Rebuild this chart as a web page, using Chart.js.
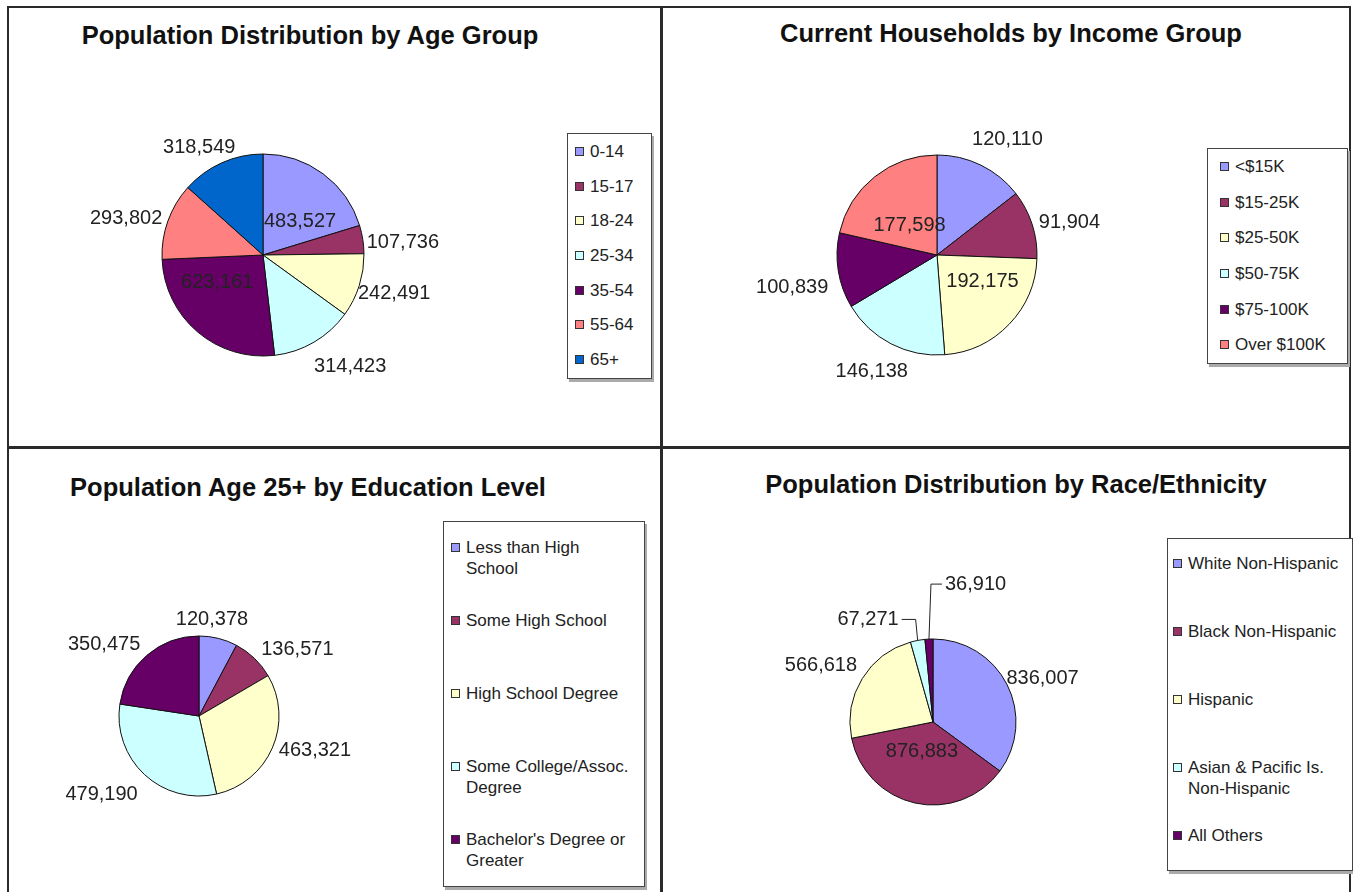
<!DOCTYPE html>
<html>
<head>
<meta charset="utf-8">
<script src="https://cdn.jsdelivr.net/npm/chart.js@4.4.1/dist/chart.umd.min.js"></script>
<style>
body { margin:0; background:#fff; width:1353px; height:892px; overflow:hidden; position:relative; font-family:"Liberation Sans", Arial, sans-serif; }
.line { position:absolute; background:#2a2a2a; }
.title { position:absolute; font-weight:bold; font-size:25.5px; color:#111; white-space:nowrap; transform:translate(-50%,-50%); }
.legend { position:absolute; border:1px solid #444; box-shadow:2px 3px 0 #aaa; background:#fff; box-sizing:border-box; font-size:17px; color:#222; }
.item { display:flex; align-items:flex-start; line-height:21px; }
.mark { width:7px; height:7px; border:1px solid #333; margin:6px 6px 0 0; flex:none; }
canvas { position:absolute; }
</style>
</head>
<body>
<div class="line" style="left:7px;top:6px;width:1344px;height:2px"></div>
<div class="line" style="left:7px;top:6px;width:2px;height:886px"></div>
<div class="line" style="left:1349px;top:6px;width:2px;height:886px"></div>
<div class="line" style="left:660px;top:6px;width:3px;height:886px"></div>
<div class="line" style="left:7px;top:446px;width:1344px;height:3px"></div>

<div class="title" style="left:310px;top:35px">Population Distribution by Age Group</div>
<div class="title" style="left:1011px;top:33px">Current Households by Income Group</div>
<div class="title" style="left:308px;top:487px">Population Age 25+ by Education Level</div>
<div class="title" style="left:1016px;top:484px">Population Distribution by Race/Ethnicity</div>

<canvas id="pieAge" width="480" height="320" style="left:23px;top:95px"></canvas>
<canvas id="pieIncome" width="480" height="320" style="left:697px;top:95px"></canvas>
<canvas id="pieEdu" width="380" height="280" style="left:9px;top:576px"></canvas>
<canvas id="pieRace" width="400" height="320" style="left:733px;top:562px"></canvas>

<div class="legend" id="legAge" style="left:567px;top:133px;width:85px;height:246px;padding:7px 0 0 7px"></div>
<div class="legend" id="legIncome" style="left:1207px;top:148px;width:141px;height:216px;padding:7px 0 0 12px"></div>
<div class="legend" id="legEdu" style="left:443px;top:521px;width:202px;height:366px;padding:15px 0 0 7px"></div>
<div class="legend" id="legRace" style="left:1167px;top:538px;width:186px;height:333px;padding:14px 0 0 5px"></div>

<script>
const ageLabels = ['0-14', '15-17', '18-24', '25-34', '35-54', '55-64', '65+'];
const ageValues = [483527, 107736, 242491, 314423, 623161, 293802, 318549];

const incomeLabels = ['<$15K', '$15-25K', '$25-50K', '$50-75K', '$75-100K', 'Over $100K'];
const incomeValues = [120110, 91904, 192175, 146138, 100839, 177598];

const eduLabels = ['Less than High School', 'Some High School', 'High School Degree', 'Some College/Assoc. Degree', "Bachelor's Degree or Greater"];
const eduValues = [120378, 136571, 463321, 479190, 350475];

const raceLabels = ['White Non-Hispanic', 'Black Non-Hispanic', 'Hispanic', 'Asian & Pacific Is. Non-Hispanic', 'All Others'];
const raceValues = [836007, 876883, 566618, 67271, 36910];

const palette = ['#9999FF', '#993366', '#FFFFCC', '#CCFFFF', '#660066', '#FF8080', '#0066CC'];

// value labels: inside some slices, outside the rest, leader lines for the tiny ones
const pieLabels = {
    id: 'pieLabels',
    afterDatasetsDraw(chart, args, opts) {
        const ctx = chart.ctx;
        const meta = chart.getDatasetMeta(0);
        const values = chart.data.datasets[0].data;
        const leaders = opts.leaders || {};
        const nudge = opts.nudge || {};
        ctx.save();
        ctx.font = '20px "Liberation Sans", Arial, sans-serif';
        ctx.fillStyle = '#222';
        ctx.strokeStyle = '#222';
        ctx.lineWidth = 1;
        meta.data.forEach((arc, i) => {
            const p = arc.getProps(['x', 'y', 'startAngle', 'endAngle', 'outerRadius'], true);
            const mid = (p.startAngle + p.endAngle) / 2;
            const cos = Math.cos(mid), sin = Math.sin(mid);
            const text = values[i].toLocaleString('en-US');
            const [nx, ny] = nudge[i] || [0, 0];

            if ((opts.inside || []).includes(i)) {
                const k = opts.insideK * p.outerRadius;
                ctx.textAlign = 'center';
                ctx.textBaseline = 'middle';
                ctx.fillText(text, p.x + cos * k + nx, p.y + sin * k + ny);
                return;
            }

            if (leaders[i]) {
                const [dx, dy] = leaders[i];
                const ex = p.x + cos * p.outerRadius, ey = p.y + sin * p.outerRadius;
                const tx = ex + dx, ty = ey + dy;
                const s = Math.sign(dx);
                ctx.beginPath();
                ctx.moveTo(ex, ey);
                ctx.lineTo(ex + s * 2, ty);
                ctx.lineTo(tx - s * 3, ty);
                ctx.stroke();
                ctx.textAlign = dx < 0 ? 'right' : 'left';
                ctx.textBaseline = 'middle';
                ctx.fillText(text, tx, ty);
                return;
            }

            const r = p.outerRadius + opts.gap;
            const ax = p.x + cos * r + nx, ay = p.y + sin * r + ny;
            ctx.textAlign = Math.abs(cos) < 0.3 ? 'center' : (cos > 0 ? 'left' : 'right');
            ctx.textBaseline = Math.abs(sin) < 0.5 ? 'middle' : (sin < 0 ? 'bottom' : 'top');
            ctx.fillText(text, ax, ay);
        });
        ctx.restore();
    }
};

function makePie(id, labels, values, radius, labelOpts) {
    return new Chart(document.getElementById(id), {
        type: 'pie',
        data: {
            labels: labels,
            datasets: [{
                data: values,
                backgroundColor: palette.slice(0, values.length),
                borderColor: '#111',
                borderWidth: 1,
                hoverOffset: 0,
                radius: radius
            }]
        },
        options: {
            responsive: false,
            animation: false,
            events: [],
            layout: { padding: 0 },
            plugins: {
                legend: { display: false },
                tooltip: { enabled: false },
                pieLabels: labelOpts
            }
        },
        plugins: [pieLabels]
    });
}

function makeLegend(id, labels, rowH, textW) {
    const box = document.getElementById(id);
    labels.forEach((lab, i) => {
        const row = document.createElement('div');
        row.className = 'item';
        row.style.height = rowH + 'px';
        const m = document.createElement('span');
        m.className = 'mark';
        m.style.background = palette[i];
        const t = document.createElement('span');
        t.textContent = lab;
        if (textW) t.style.maxWidth = textW + 'px';
        row.appendChild(m);
        row.appendChild(t);
        box.appendChild(row);
    });
}

makePie('pieAge', ageLabels, ageValues, 101, {
    inside: [0, 4], insideK: 0.5, gap: 6,
    nudge: { 0: [7, 7], 1: [-2, 4], 2: [-7, 6], 3: [-3, 9], 4: [-13, -11], 6: [16, 0] }
});
makePie('pieIncome', incomeLabels, incomeValues, 100, {
    inside: [2, 5], insideK: 0.52, gap: 7,
    nudge: { 0: [-12, -9], 2: [8, -10], 3: [20, 11], 4: [-3, 16], 5: [5, 11] }
});
makePie('pieEdu', eduLabels, eduValues, 80, {
    inside: [], insideK: 0.5, gap: 7,
    nudge: { 0: [-8, -2], 1: [2, 6], 3: [-2, 5], 4: [-2, 4] }
});
makePie('pieRace', raceLabels, raceValues, 83, {
    inside: [1], insideK: 0.45, gap: 6,
    nudge: { 0: [-6, -3], 1: [-3, -7] },
    leaders: { 3: [-19, -21], 4: [16, -55] }
});

makeLegend('legAge', ageLabels, 34.7);
makeLegend('legIncome', incomeLabels, 35.7);
makeLegend('legEdu', eduLabels, 73, 168);
makeLegend('legRace', raceLabels, 68, 160);
</script>
</body>
</html>
